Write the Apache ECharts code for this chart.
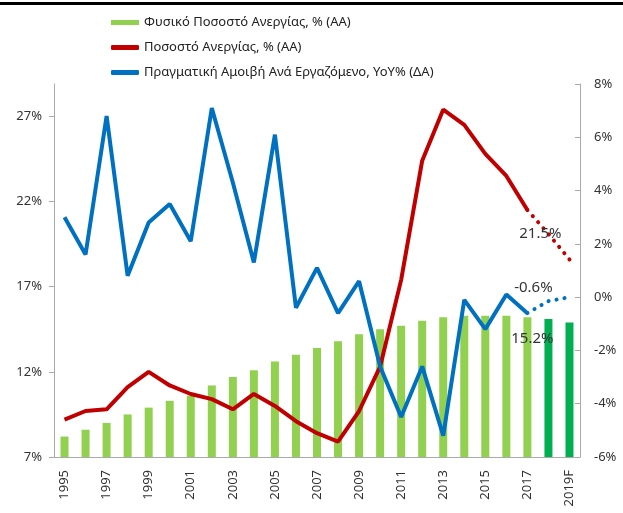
<!DOCTYPE html>
<html>
<head>
<meta charset="utf-8">
<script src="https://cdn.jsdelivr.net/npm/echarts@6/dist/echarts.min.js"></script>
<style>
  html, body { margin: 0; padding: 0; background: #fff; }
  #myChart { width: 623px; height: 513px; }
</style>
</head>
<body>
<div id="myChart"></div>
<script>
var years = ['1995', '1996', '1997', '1998', '1999', '2000', '2001', '2002', '2003', '2004',
  '2005', '2006', '2007', '2008', '2009', '2010', '2011', '2012', '2013', '2014',
  '2015', '2016', '2017', '2018', '2019F']

// Φυσικό Ποσοστό Ανεργίας (ΑΑ)
var naturalRate = [8.2, 8.6, 9.0, 9.5, 9.9, 10.3, 10.6, 11.2, 11.7, 12.1,
  12.6, 13.0, 13.4, 13.8, 14.2, 14.5, 14.7, 15.0, 15.2, 15.3,
  15.3, 15.3, 15.2, 15.1, 14.9]

// Ποσοστό Ανεργίας (ΑΑ), πραγματικό και πρόβλεψη
var unemployment = [9.2, 9.7, 9.8, 11.1, 12.0, 11.2, 10.7, 10.4, 9.8, 10.7,
  10.0, 9.1, 8.4, 7.9, 9.7, 12.3, 17.4, 24.4, 27.4, 26.5,
  24.8, 23.5, 21.5, null, null]
var unemploymentF = [null, null, null, null, null, null, null, null, null, null,
  null, null, null, null, null, null, null, null, null, null,
  null, null, 21.5, 20.1, 18.6]

// Πραγματική Αμοιβή Ανά Εργαζόμενο, YoY% (ΔΑ)
var realPay = [3.0, 1.6, 6.8, 0.8, 2.8, 3.5, 2.1, 7.1, 4.3, 1.3,
  6.1, -0.4, 1.1, -0.6, 0.6, -2.6, -4.5, -2.6, -5.2, -0.1,
  -1.2, 0.1, -0.6, null, null]
var realPayF = [null, null, null, null, null, null, null, null, null, null,
  null, null, null, null, null, null, null, null, null, null,
  null, null, -0.6, -0.15, 0.0]

var leftTicks = [7, 12, 17, 22, 27]

var lightGreen = '#92D050'
var darkGreen = '#00B050'
var red = '#C00000'
var blue = '#0070C0'
var font = 'Noto Sans'

var last = 22 // 2017

var barData = naturalRate.map(function (v, i) {
  var item = { value: v, itemStyle: { color: i > last ? darkGreen : lightGreen } }
  if (i === last) {
    item.label = { show: true, position: 'insideTop', distance: 14, offset: [5, 0], formatter: '15.2%' }
  }
  return item
})

var redF = unemploymentF.map(function (v, i) {
  if (i === last) {
    return { value: v, label: { show: true, position: 'bottom', distance: 16, offset: [13, 0], formatter: '21.5%' } }
  }
  return v
})

var blueF = realPayF.map(function (v, i) {
  if (i === last) {
    return { value: v, label: { show: true, position: 'top', distance: 18, offset: [6, 0], formatter: '-0.6%' } }
  }
  return v
})

var labelStyle = { color: '#333', fontSize: 15, fontFamily: font }

var myChart = echarts.init(document.getElementById('myChart'))
myChart.setOption({
  animation: false,
  graphic: [
    { type: 'rect', left: 0, top: 2, shape: { width: 623, height: 3 }, style: { fill: '#000' } }
  ],
  legend: {
    orient: 'vertical',
    left: 106,
    top: 11,
    itemWidth: 28,
    itemHeight: 5,
    itemGap: 12,
    textStyle: { color: '#222', fontSize: 13, fontFamily: font },
    data: [
      { name: 'Φυσικό Ποσοστό Ανεργίας, % (ΑΑ)', icon: 'rect', itemStyle: { color: lightGreen } },
      { name: 'Ποσοστό Ανεργίας, % (ΑΑ)', icon: 'roundRect' },
      { name: 'Πραγματική Αμοιβή Ανά Εργαζόμενο, YoY% (ΔΑ)', icon: 'roundRect' }
    ]
  },
  grid: {
    left: 54,
    right: 43,
    top: 84,
    bottom: 56
  },
  xAxis: {
    type: 'category',
    data: years,
    boundaryGap: true,
    axisLine: { onZero: false, lineStyle: { color: '#aaa' } },
    axisTick: { interval: 0, length: 5, lineStyle: { color: '#aaa' } },
    axisLabel: {
      interval: 1,
      rotate: 90,
      margin: 13,
      color: '#333',
      fontSize: 13,
      fontFamily: font
    }
  },
  yAxis: [
    {
      type: 'value',
      min: 7,
      max: 28.9,
      interval: 5,
      splitLine: { show: false },
      axisLine: { show: true, lineStyle: { color: '#aaa' } },
      axisTick: { show: true, length: 5, customValues: leftTicks, lineStyle: { color: '#aaa' } },
      axisLabel: {
        customValues: leftTicks,
        margin: 12,
        color: '#333',
        fontSize: 13,
        fontFamily: font,
        formatter: '{value}%'
      }
    },
    {
      type: 'value',
      min: -6,
      max: 8,
      interval: 2,
      position: 'right',
      splitLine: { show: false },
      axisLine: { show: true, lineStyle: { color: '#aaa' } },
      axisTick: { show: true, inside: true, length: 5, lineStyle: { color: '#aaa' } },
      axisLabel: {
        margin: 14,
        color: '#333',
        fontSize: 13,
        fontFamily: font,
        formatter: '{value}%'
      }
    }
  ],
  series: [
    {
      name: 'Φυσικό Ποσοστό Ανεργίας, % (ΑΑ)',
      type: 'bar',
      yAxisIndex: 0,
      barWidth: 8,
      itemStyle: { color: lightGreen },
      label: labelStyle,
      data: barData,
      z: 1
    },
    {
      name: 'Ποσοστό Ανεργίας, % (ΑΑ)',
      type: 'line',
      yAxisIndex: 0,
      symbol: 'none',
      color: red,
      lineStyle: { color: red, width: 4 },
      data: unemployment,
      z: 3
    },
    {
      name: 'Ποσοστό Ανεργίας F',
      type: 'line',
      yAxisIndex: 0,
      symbol: 'circle',
      symbolSize: 0,
      showSymbol: true,
      color: red,
      lineStyle: { color: red, width: 4, type: [0.1, 8], cap: 'round' },
      label: labelStyle,
      data: redF,
      z: 3
    },
    {
      name: 'Πραγματική Αμοιβή Ανά Εργαζόμενο, YoY% (ΔΑ)',
      type: 'line',
      yAxisIndex: 1,
      symbol: 'none',
      color: blue,
      lineStyle: { color: blue, width: 4 },
      data: realPay,
      z: 4
    },
    {
      name: 'Πραγματική Αμοιβή F',
      type: 'line',
      yAxisIndex: 1,
      symbol: 'circle',
      symbolSize: 0,
      showSymbol: true,
      color: blue,
      lineStyle: { color: blue, width: 4, type: [0.1, 8], cap: 'round' },
      label: labelStyle,
      data: blueF,
      z: 4
    }
  ]
})
</script>
</body>
</html>
